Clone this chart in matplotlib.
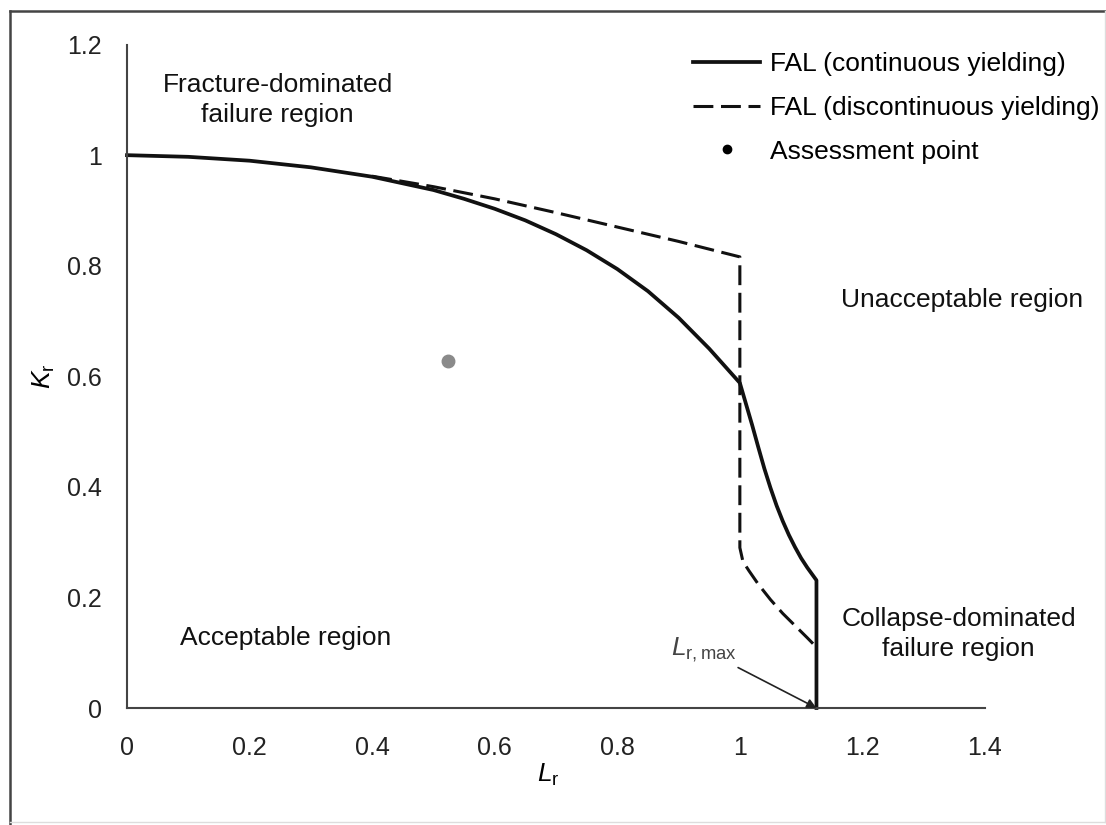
import matplotlib
matplotlib.use('Agg')
import matplotlib.pyplot as plt
from matplotlib.lines import Line2D

plt.rcParams['font.family'] = ['Liberation Sans', 'DejaVu Sans']
plt.rcParams['mathtext.fontset'] = 'custom'
plt.rcParams['mathtext.rm'] = 'Liberation Sans'
plt.rcParams['mathtext.it'] = 'Liberation Sans:italic'

# FAL, continuous yielding
lr_cont = [0, 0.1, 0.2, 0.3, 0.4, 0.5, 0.55, 0.6, 0.65, 0.7, 0.75, 0.8, 0.85,
           0.9, 0.95, 1.0, 1.01, 1.02, 1.03, 1.04, 1.05, 1.06, 1.07, 1.08,
           1.09, 1.10, 1.11, 1.125, 1.125]
kr_cont = [1.0, 0.997, 0.99, 0.978, 0.961, 0.937, 0.921, 0.903, 0.882, 0.857,
           0.828, 0.794, 0.754, 0.706, 0.650, 0.588, 0.55, 0.512, 0.472, 0.433,
           0.398, 0.366, 0.338, 0.313, 0.291, 0.271, 0.254, 0.231, 0.0]

# FAL, discontinuous yielding
lr_disc = [0.4, 0.5, 0.6, 0.7, 0.8, 0.9, 1.0, 1.0, 1.005, 1.015, 1.03, 1.05,
           1.07, 1.09, 1.11, 1.125]
kr_disc = [0.962, 0.943, 0.921, 0.896, 0.870, 0.844, 0.816, 0.29, 0.265,
           0.248, 0.224, 0.196, 0.171, 0.149, 0.127, 0.110]

# assessment point
lr_pt = [0.524]
kr_pt = [0.627]

xticks = [0, 0.2, 0.4, 0.6, 0.8, 1.0, 1.2, 1.4]
xtick_labels = ['0', '0.2', '0.4', '0.6', '0.8', '1', '1.2', '1.4']
yticks = [0, 0.2, 0.4, 0.6, 0.8, 1.0, 1.2]
ytick_labels = ['0', '0.2', '0.4', '0.6', '0.8', '1', '1.2']

W, H = 1106, 825
fig = plt.figure(figsize=(W / 100, H / 100), dpi=100)
ax = fig.add_axes([127 / W, 1 - 708 / H, (985 - 127) / W, (708 - 44.6) / H])

fs = 19
ink = '#111111'

ax.plot(lr_disc, kr_disc, color=ink, lw=2.2, ls=(0, (6.5, 2.5)),
        label='FAL (discontinuous yielding)', clip_on=False)
ax.plot(lr_cont, kr_cont, color=ink, lw=2.7, solid_joinstyle='round',
        label='FAL (continuous yielding)', clip_on=False)
ax.plot(lr_pt, kr_pt, ls='none', marker='o', ms=9, color='#8a8a8a',
        mec='#8a8a8a', label='Assessment point')

ax.set_xlim(0, 1.4)
ax.set_ylim(0, 1.2)
ax.set_xticks(xticks)
ax.set_xticklabels(xtick_labels)
ax.set_yticks(yticks)
ax.set_yticklabels(ytick_labels)
ax.tick_params(axis='both', length=0, labelsize=18, labelcolor='#222222')
ax.tick_params(axis='x', pad=20)
ax.tick_params(axis='y', pad=18)

for s in ['top', 'right']:
    ax.spines[s].set_visible(False)
for s in ['left', 'bottom']:
    ax.spines[s].set_color('#444444')
    ax.spines[s].set_linewidth(1.5)

ax.set_xlabel(r'$L_{\mathrm{r}}$', fontsize=fs, va='center')
ax.xaxis.set_label_coords(0.491, -0.101)
ax.set_ylabel(r'$K_{\mathrm{r}}$', fontsize=fs, va='center')
ax.yaxis.set_label_coords(-0.097, 0.5)

# region labels
ax.text(0.246, 1.10, 'Fracture-dominated\nfailure region', fontsize=fs,
        ha='center', va='center', linespacing=1.3, color=ink)
ax.text(0.259, 0.127, 'Acceptable region', fontsize=fs, ha='center',
        va='center', color=ink)
ax.text(1.362, 0.738, 'Unacceptable region', fontsize=fs, ha='center',
        va='center', color=ink)
ax.text(1.357, 0.134, 'Collapse-dominated\nfailure region', fontsize=fs,
        ha='center', va='center', linespacing=1.3, color=ink)

ax.annotate(r'$L_{\mathrm{r,max}}$', xy=(1.125, 0), xytext=(0.995, 0.105),
            fontsize=fs, ha='right', va='center', color='#444444',
            arrowprops=dict(arrowstyle='-|>', color='#222222', lw=1.2,
                            mutation_scale=14, shrinkA=1, shrinkB=0))

# legend in the upper right corner
handles, labels = ax.get_legend_handles_labels()
order = [1, 0, 2]
leg = ax.legend([handles[i] for i in order], [labels[i] for i in order],
                loc='upper left', bbox_to_anchor=(693 / W, 1 - 52 / H),
                bbox_transform=fig.transFigure, frameon=False, fontsize=fs,
                handlelength=2.54, handletextpad=0.38, labelspacing=0.75,
                borderpad=0, borderaxespad=0)
pt_handle = leg.legend_handles[2]
pt_handle.set_markerfacecolor('black')
pt_handle.set_markeredgecolor('black')
pt_handle.set_markersize(6)

# outer frame of the figure
fig.add_artist(Line2D([10 / W, 1105 / W], [1 - 11 / H, 1 - 11 / H],
                      transform=fig.transFigure, color='#444444', lw=1.8))
fig.add_artist(Line2D([10 / W, 10 / W], [1 - 11 / H, 0], transform=fig.transFigure,
                      color='#444444', lw=1.8))
fig.add_artist(Line2D([1105 / W, 1105 / W], [1 - 11 / H, 1 - 822 / H],
                      transform=fig.transFigure, color='#dddddd', lw=1.0))
fig.add_artist(Line2D([10 / W, 1105 / W], [1 - 822 / H, 1 - 822 / H],
                      transform=fig.transFigure, color='#dddddd', lw=1.0))

plt.savefig('out.png', dpi=100)
